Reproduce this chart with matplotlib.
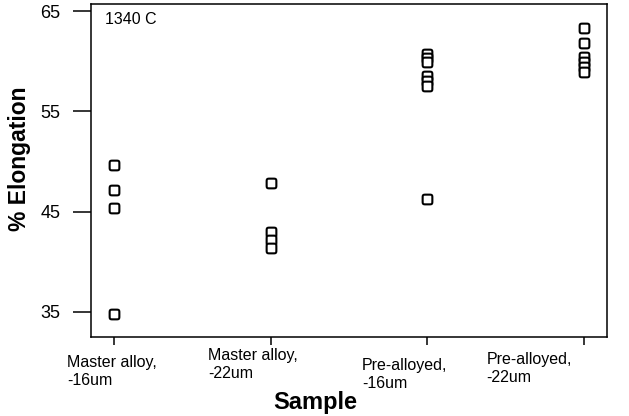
import matplotlib
matplotlib.use("Agg")
import numpy as np
import matplotlib.pyplot as plt
from matplotlib.path import Path
from matplotlib.transforms import ScaledTranslation

plt.rcParams['font.family'] = ['Liberation Sans', 'DejaVu Sans']

samples = ["Master alloy,\n-16um", "Master alloy,\n-22um",
           "Pre-alloyed,\n-16um", "Pre-alloyed,\n-22um"]
ma_16 = [49.6, 47.2, 45.4, 34.8]
ma_22 = [47.9, 43.0, 42.2, 41.4]
pa_16 = [60.7, 60.3, 59.9, 58.5, 58.0, 57.5, 46.3]
pa_22 = [63.3, 61.8, 60.4, 59.9, 59.4, 58.9]
groups = [ma_16, ma_22, pa_16, pa_22]
yticks = [35, 45, 55, 65]

# rounded square marker (superellipse)
t = np.linspace(0, 2*np.pi, 73)
c, s = np.cos(t), np.sin(t)
verts = np.column_stack([np.sign(c)*np.abs(c)**(2/6), np.sign(s)*np.abs(s)**(2/6)])
rsq = Path(verts, closed=True)

fig = plt.figure(figsize=(6.29, 4.16), dpi=100)
ax = fig.add_axes([91/629, 1 - 337/416, 516/629, 333/416])

for i, vals in enumerate(groups):
    ax.plot([i]*len(vals), vals, linestyle='none', marker=rsq, markersize=7,
            mfc='white', mec='black', mew=1.5)

ax.set_xlim(-0.15, 3.15)
ax.set_ylim(32.5, 65.7)
ax.set_yticks(yticks)
ax.tick_params(axis='y', length=13, width=1.1, pad=9, labelsize=13)
ax.set_xticks(range(len(samples)))
ax.set_xticklabels(samples, ha='left', fontsize=11.5)
ax.tick_params(axis='x', length=6, width=1.1, pad=0)
for sp in ax.spines.values():
    sp.set_linewidth(1.1)

# shift each label to where it sits in the original
offsets = [(-47, 10), (-63, 3), (-65, 13), (-97, 7)]
for lab, (dx, dy) in zip(ax.get_xticklabels(), offsets):
    lab.set_transform(lab.get_transform() + ScaledTranslation(dx/100, -dy/100, fig.dpi_scale_trans))

ax.text(0.027, 0.975, "1340 C", transform=ax.transAxes, fontsize=11.5, va='top', ha='left')

fig.text(315/629, 1 - 402/416, "Sample", fontsize=17, fontweight='bold', ha='center', va='center')
fig.text(20/629, 1 - 159/416, "% Elongation", fontsize=16.5, fontweight='bold',
         rotation=90, ha='center', va='center')

fig.savefig("out.png", dpi=100)
